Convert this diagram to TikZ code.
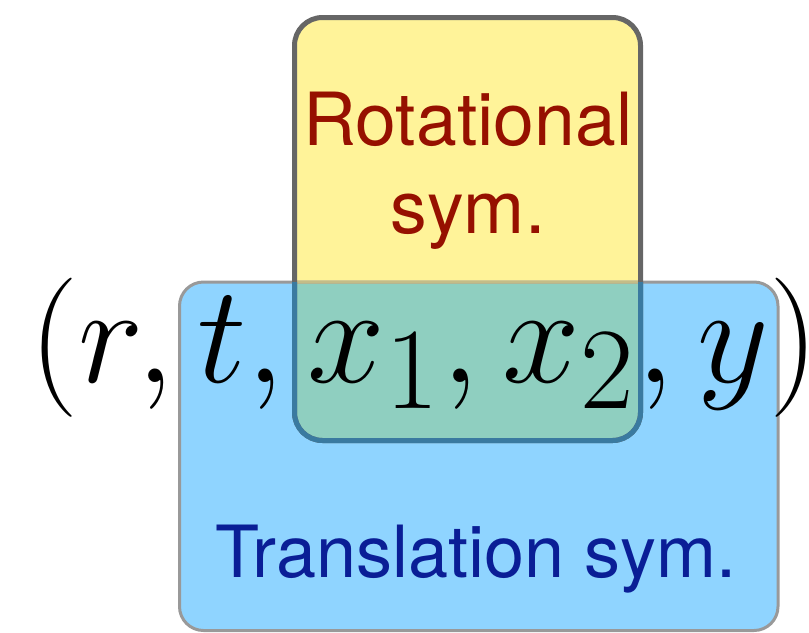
\documentclass[tikz,border=0pt]{standalone}
\usepackage{fontspec}
\newfontfamily\heros{TeX Gyre Heros}
\definecolor{yfill}{HTML}{FFF399}
\definecolor{bfill}{HTML}{8FD4FF}
\definecolor{gfill}{HTML}{8FCFC0}
\definecolor{yedge}{HTML}{666666}
\definecolor{yedgein}{HTML}{3A7AA0}
\definecolor{bedge}{HTML}{999999}
\definecolor{bedgein}{HTML}{C4BC88}
\definecolor{rottext}{HTML}{961000}
\definecolor{transtext}{HTML}{0A1E96}
\tikzset{
  yround/.style={rounded corners=21pt},
  bround/.style={rounded corners=18pt},
  ylineA/.style={yround, line width=3.75pt},
  blineA/.style={bround, line width=2.25pt},
  label/.style={inner sep=0pt, anchor=base, font=\heros\fontsize{55}{55}\selectfont},
}
\begin{document}
\begin{tikzpicture}[x=0.75pt,y=-0.75pt]
\useasboundingbox (0,0) rectangle (809,632);
% fills
\fill[bfill, bround] (179.5,282) rectangle (778,630.5);
\fill[yfill, yround] (294.5,17.5) rectangle (640.5,440.5);
\begin{scope}
  \clip[bround] (179.5,282) rectangle (778,630.5);
  \fill[gfill, yround] (294.5,17.5) rectangle (640.5,440.5);
\end{scope}
% blue border
\draw[bedge, blineA] (179.5,282) rectangle (778,630.5);
\begin{scope}
  \clip[yround] (294.5,17.5) rectangle (640.5,440.5);
  \draw[bedgein, blineA] (179.5,282) rectangle (778,630.5);
\end{scope}
% yellow border
\draw[yedge, ylineA] (294.5,17.5) rectangle (640.5,440.5);
\begin{scope}
  \clip[bround] (179.5,282) rectangle (778,630.5);
  \draw[yedgein, ylineA] (294.5,17.5) rectangle (640.5,440.5);
\end{scope}
% texts
\node[label, text=rottext] (rot1) at (468,145) {Rotational};
\node[label, text=rottext] (rot2) at (468,233) {sym.};
\node[label, text=transtext, font=\heros\fontsize{54}{54}\selectfont] (trans) at (476,577) {Translation sym.};
\node[inner sep=0pt, anchor=base, font=\Huge, scale=4.2] (tuple) at (424,382) {$(r,t,x_1,x_2,y)$};
\end{tikzpicture}
\end{document}
